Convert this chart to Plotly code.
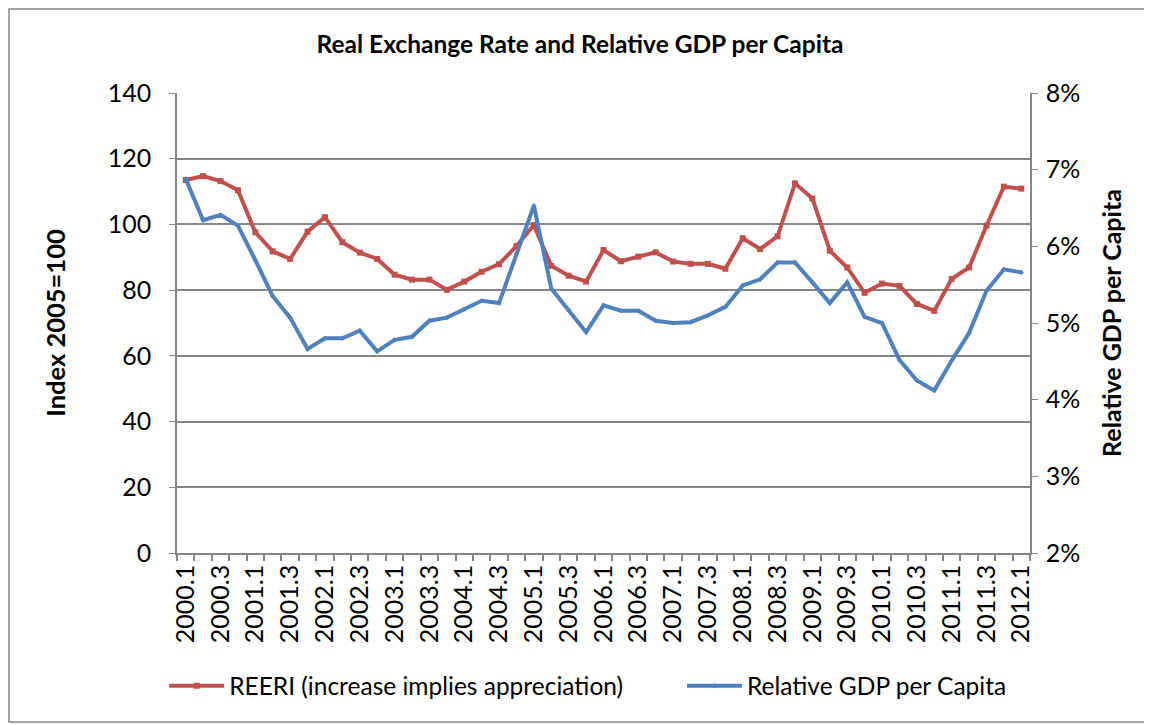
import plotly.graph_objects as go

quarters = [f"{y}.{q}" for y in range(2000, 2012) for q in (1, 2, 3, 4)] + ["2012.1"]

reeri = [113.5, 114.7, 113.2, 110.4, 97.6, 91.8, 89.5, 97.8, 102.2, 94.6,
         91.4, 89.5, 84.7, 83.2, 83.2, 80.1, 82.6, 85.6, 87.9, 93.4,
         99.8, 87.4, 84.4, 82.6, 92.2, 88.8, 90.2, 91.5, 88.7, 88.0,
         88.0, 86.5, 95.8, 92.5, 96.4, 112.5, 107.9, 92.0, 86.9, 79.2,
         82.0, 81.3, 75.8, 73.7, 83.4, 86.9, 99.6, 111.5, 110.9]

# relative GDP per capita, percent
rel_gdp = [6.88, 6.34, 6.41, 6.27, 5.82, 5.35, 5.07, 4.66, 4.80, 4.80,
           4.90, 4.63, 4.78, 4.82, 5.03, 5.07, 5.18, 5.29, 5.26, 5.91,
           6.53, 5.45, 5.17, 4.88, 5.23, 5.16, 5.16, 5.03, 5.00, 5.01,
           5.10, 5.21, 5.49, 5.57, 5.79, 5.79, 5.53, 5.26, 5.53, 5.08,
           5.00, 4.52, 4.25, 4.12, 4.51, 4.87, 5.42, 5.70, 5.66]

red = "#C0504D"
blue = "#4F81BD"
grid = "#868686"
font = "Lato"

fig = go.Figure()

fig.add_trace(go.Scatter(
    x=quarters,
    y=reeri,
    name="REERI (increase implies appreciation)",
    mode="lines+markers",
    line=dict(color=red, width=4),
    marker=dict(symbol="square", size=6, color=red),
    legend="legend",
))

fig.add_trace(go.Scatter(
    x=quarters,
    y=[v / 100 for v in rel_gdp],
    name="Relative GDP per Capita",
    mode="lines+markers",
    line=dict(color=blue, width=4),
    marker=dict(symbol="diamond", size=4, color=blue),
    yaxis="y2",
    legend="legend2",
))

legend_style = dict(
    orientation="h",
    xanchor="left",
    y=-0.289,
    yanchor="middle",
    font=dict(size=24.5),
    itemwidth=55,
    bgcolor="rgba(0,0,0,0)",
)

# page body has an 8px margin, so the figure is shrunk to fit the window
fig.update_layout(
    width=1144,
    height=717,
    plot_bgcolor="white",
    paper_bgcolor="white",
    font=dict(family=font, size=25, color="black"),
    title=dict(
        text="<b>Real Exchange Rate and Relative GDP per Capita</b>",
        x=0.5,
        xanchor="center",
        y=0.9495,
        yanchor="middle",
        font=dict(size=24.5),
    ),
    margin=dict(l=169, r=122, t=85, b=172),
    showlegend=True,
    legend=dict(legend_style, x=-0.015),
    legend2=dict(legend_style, x=0.592),
    xaxis=dict(
        type="category",
        tickvals=quarters,
        ticktext=[q if i % 2 == 0 else "" for i, q in enumerate(quarters)],
        tickson="boundaries",
        ticks="outside",
        ticklen=6,
        tickcolor=grid,
        tickwidth=1.5,
        tickangle=-90,
        showline=True,
        linecolor=grid,
        linewidth=1.5,
        showgrid=False,
        range=[-0.5, len(quarters) - 0.5],
    ),
    yaxis=dict(
        title=dict(text="<b>Index 2005=100</b>", font=dict(size=25.5), standoff=35),
        range=[0, 140],
        dtick=20,
        ticks="outside",
        ticklen=6,
        tickcolor=grid,
        ticklabelstandoff=13,
        showline=True,
        linecolor=grid,
        linewidth=1.5,
        showgrid=True,
        gridcolor=grid,
        gridwidth=1.5,
        zeroline=False,
    ),
    yaxis2=dict(
        title=dict(text="<b>Relative GDP per Capita</b>", font=dict(size=25), standoff=24),
        overlaying="y",
        side="right",
        range=[0.02, 0.08],
        dtick=0.01,
        tickformat=".0%",
        ticks="outside",
        ticklen=6,
        tickcolor=grid,
        ticklabelstandoff=3,
        showline=True,
        linecolor=grid,
        linewidth=1.5,
        showgrid=False,
        zeroline=False,
    ),
)

# outer chart border
fig.add_shape(
    type="rect",
    xref="paper", yref="paper",
    x0=-168 / 853, x1=975 / 853,
    y0=-169 / 460, y1=544 / 460,
    line=dict(color=grid, width=1.5),
    fillcolor="rgba(0,0,0,0)",
    layer="below",
)

fig.write_html("out.html")
